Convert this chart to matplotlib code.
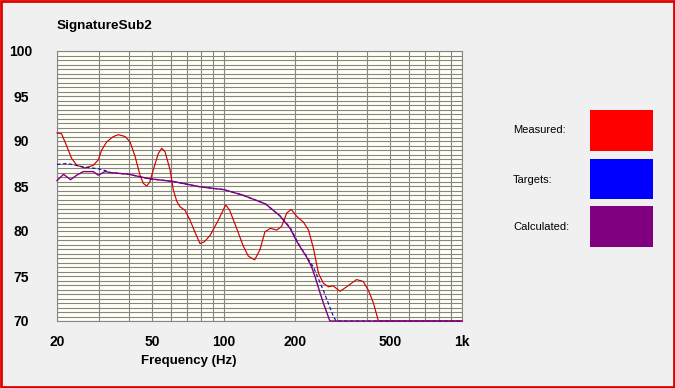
import matplotlib
matplotlib.use("Agg")
import matplotlib.pyplot as plt
from matplotlib.ticker import FixedLocator, NullFormatter, MultipleLocator
from matplotlib.patches import Rectangle

title = "SignatureSub2"
x_label = "Frequency (Hz)"
x_tick_values = [20, 50, 100, 200, 500, 1000]
x_tick_labels = ["20", "50", "100", "200", "500", "1k"]
x_grid_values = [20, 30, 40, 50, 60, 70, 80, 90, 100, 200, 300, 400, 500, 600, 700, 800, 900, 1000]
y_tick_values = [70, 75, 80, 85, 90, 95, 100]

measured_f = [20, 20.9, 22.0, 23.0, 24.2, 26.2, 28.4, 29.8, 30.8, 32.3, 34.5, 36.2, 38.6, 40.5,
              42.5, 44.6, 46.0, 47.6, 49.1, 50.7, 53.2, 55.0, 56.8, 59.6, 61.5, 63.6, 65.6, 68.9,
              72.3, 76, 79.6, 83, 87.7, 95, 102, 106, 113, 121, 127, 135, 142, 149, 157, 167,
              175, 184, 192, 203, 216, 227, 238, 250, 262, 275, 288, 308, 328, 361, 385, 405,
              425, 446, 1000]
measured_db = [90.9, 90.8, 89.4, 88.1, 87.3, 87.0, 87.3, 87.9, 89.0, 89.9, 90.5, 90.7, 90.5, 89.9,
               88.3, 86.2, 85.3, 85.0, 85.5, 86.8, 88.6, 89.2, 88.8, 86.8, 84.6, 83.3, 82.7, 82.3,
               81.2, 79.8, 78.6, 78.8, 79.5, 81.2, 82.9, 82.3, 80.4, 78.3, 77.2, 76.8, 77.9, 79.9,
               80.3, 80.1, 80.5, 82.0, 82.4, 81.6, 81.0, 80.1, 78.1, 75.3, 74.2, 73.8, 73.9, 73.3,
               73.8, 74.6, 74.4, 73.4, 72.0, 70.0, 70.0]

targets_f = [20, 22, 24, 26, 28, 30, 32, 33.4, 40, 49, 61.5, 80, 100, 120, 150, 172, 190,
             209, 238, 262, 288, 296, 1000]
targets_db = [87.4, 87.5, 87.3, 87.1, 87.0, 86.9, 86.7, 86.5, 86.3, 85.8, 85.5, 84.9, 84.6,
              84.0, 83.0, 81.7, 80.4, 78.3, 76.0, 73.4, 70.6, 70.0, 70.0]

calc_f = [20, 21.3, 22.8, 24.2, 25.8, 28.4, 29.8, 31.8, 33.4, 40, 49, 61.5, 80, 100, 120, 150,
          172, 190, 203, 223, 234, 242, 254, 262, 279, 1000]
calc_db = [85.6, 86.3, 85.7, 86.2, 86.6, 86.6, 86.2, 86.6, 86.5, 86.3, 85.8, 85.5, 84.9, 84.6,
           84.0, 83.0, 81.7, 80.3, 78.8, 77.1, 76.0, 74.9, 73.1, 72.0, 70.0, 70.0]

legend_labels = ["Measured:", "Targets:", "Calculated:"]
legend_colors = ["#FF0000", "#0000FF", "#800080"]

W, H = 675, 388
fig = plt.figure(figsize=(W / 100, H / 100), dpi=100)
fig.patch.set_facecolor("#F0F0F0")

ax = fig.add_axes([57 / W, (H - 321) / H, (462 - 57) / W, (321 - 51) / H])
ax.set_facecolor("#FFFFF4")
ax.set_xscale("log")
ax.set_xlim(20, 1000)
ax.set_ylim(70, 100)

ax.xaxis.set_major_locator(FixedLocator(x_tick_values))
ax.set_xticklabels(x_tick_labels)
ax.xaxis.set_minor_locator(FixedLocator(x_grid_values))
ax.xaxis.set_minor_formatter(NullFormatter())
ax.yaxis.set_major_locator(FixedLocator(y_tick_values))
ax.yaxis.set_minor_locator(MultipleLocator(0.5))

gridc = "#858585"
ax.grid(True, which="both", color=gridc, linewidth=0.8)
ax.set_axisbelow(True)
for s in ax.spines.values():
    s.set_color(gridc)
    s.set_linewidth(0.8)

ax.tick_params(which="both", length=0)
ax.tick_params(axis="x", pad=10)
ax.tick_params(axis="y", pad=26)
for lab in ax.get_xticklabels() + ax.get_yticklabels():
    lab.set_fontfamily("Liberation Sans")
    lab.set_fontweight("bold")
    lab.set_fontsize(10)
for lab in ax.get_yticklabels():
    lab.set_horizontalalignment("center")

ax.plot(measured_f, measured_db, color="#D00000", linewidth=0.85, clip_on=False, zorder=3)
ax.plot(targets_f, targets_db, color="#1010B0", linewidth=0.85, linestyle=(0, (3, 2)),
        clip_on=False, zorder=4)
ax.plot(calc_f, calc_db, color="#800080", linewidth=1.0, clip_on=False, zorder=5)

fig.text(57 / W, 1 - 26 / H, title, fontfamily="Liberation Sans", fontweight="bold",
         fontsize=9.7, ha="left", va="center")
fig.text(188.7 / W, 1 - 361 / H, x_label, fontfamily="Liberation Sans", fontweight="bold",
         fontsize=9.5, ha="center", va="center")

box_y = [(110, 151), (159, 199), (206, 247)]
text_y = [130, 180, 227]
for lab, col, (y0, y1), ty in zip(legend_labels, legend_colors, box_y, text_y):
    fig.text(513 / W, 1 - ty / H, lab, fontfamily="Liberation Sans", fontsize=8,
             ha="left", va="center")
    fig.patches.append(Rectangle((590 / W, 1 - y1 / H), (653 - 590) / W, (y1 - y0) / H,
                                 transform=fig.transFigure, facecolor=col, edgecolor="none"))

fig.patches.append(Rectangle((1 / W, 1 / H), (W - 2) / W, (H - 2) / H, transform=fig.transFigure,
                             facecolor="none", edgecolor="#E00000", linewidth=2.0))

fig.savefig("out.png", dpi=100, facecolor=fig.get_facecolor())
